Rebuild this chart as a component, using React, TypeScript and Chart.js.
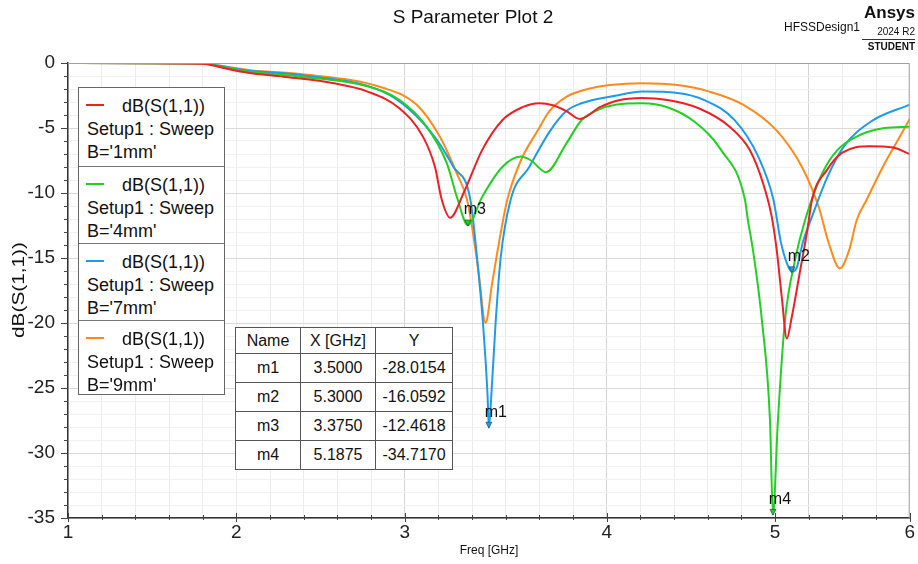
import React, { useEffect, useRef } from 'react';
import { Chart, registerables } from 'chart.js';

Chart.register(...registerables);

const FONT = "'Liberation Sans', Arial, sans-serif";

// ---- series data (frequency in GHz, value in dB) ----
const redFreq = [1.0, 1.8, 1.9, 2.0, 2.1, 2.28, 2.57, 2.78, 2.97, 3.11, 3.18, 3.22, 3.27, 3.35, 3.46, 3.58, 3.70, 3.80, 3.88, 3.96, 4.04, 4.16, 4.26, 4.41, 4.56, 4.75, 4.93, 5.05, 5.13, 5.18, 5.21, 5.24, 5.27, 5.30, 5.35, 5.39, 5.42, 5.51, 5.60, 5.76, 5.90, 6.0];
const redDb = [0, -0.05, -0.3, -0.6, -0.8, -1.05, -1.54, -2.2, -3.5, -5.7, -8.0, -10.5, -11.9, -10.0, -6.7, -4.4, -3.4, -3.1, -3.25, -3.7, -4.3, -3.4, -2.9, -2.7, -2.85, -3.5, -4.9, -6.7, -9.3, -11.8, -14.4, -18.0, -21.2, -19.5, -15.9, -13.0, -10.5, -8.2, -6.9, -6.4, -6.5, -7.0];

const greenFreq = [1.0, 1.8, 1.9, 2.0, 2.08, 2.38, 2.78, 2.97, 3.13, 3.25, 3.31, 3.375, 3.46, 3.58, 3.69, 3.75, 3.84, 3.96, 4.05, 4.15, 4.26, 4.41, 4.56, 4.72, 4.88, 5.021, 5.039, 5.069, 5.122, 5.170, 5.1875, 5.217, 5.259, 5.318, 5.378, 5.48, 5.57, 5.71, 5.85, 6.0];
const greenDb = [0, -0.03, -0.25, -0.5, -0.67, -1.05, -1.8, -2.85, -4.9, -7.7, -10.3, -12.4618, -10.3, -8.0, -7.2, -7.5, -8.4, -6.2, -4.4, -3.6, -3.2, -3.1, -3.4, -4.5, -6.7, -10.5, -12.1, -14.4, -19.8, -27.5, -34.717, -27.5, -19.8, -15.2, -12.1, -8.5, -6.7, -5.5, -5.0, -4.9];

const blueFreq = [1.0, 1.8, 1.9, 2.0, 2.08, 2.38, 2.87, 3.03, 3.19, 3.29, 3.39, 3.43, 3.465, 3.492, 3.5, 3.515, 3.54, 3.57, 3.63, 3.74, 3.86, 3.96, 4.05, 4.26, 4.41, 4.62, 4.78, 4.96, 5.10, 5.19, 5.235, 5.27, 5.3, 5.33, 5.365, 5.42, 5.51, 5.61, 5.77, 6.0];
const blueDb = [0, -0.02, -0.22, -0.45, -0.6, -0.92, -2.2, -3.6, -5.9, -8.0, -10.5, -15, -20, -25.5, -28.0154, -25.5, -20, -15, -10.5, -8.0, -5.3, -3.7, -3.1, -2.5, -2.2, -2.3, -2.85, -4.4, -7.2, -10.5, -13.8, -15.4, -16.0592, -15.7, -13.8, -11.8, -8.8, -6.4, -4.5, -3.2];

const orangeFreq = [1.0, 1.8, 1.9, 2.0, 2.08, 2.38, 2.87, 3.07, 3.21, 3.31, 3.37, 3.40, 3.44, 3.48, 3.52, 3.57, 3.61, 3.69, 3.79, 3.86, 3.96, 4.06, 4.22, 4.41, 4.62, 4.81, 5.01, 5.21, 5.36, 5.46, 5.52, 5.585, 5.64, 5.685, 5.745, 5.84, 5.94, 6.0];
const orangeDb = [0, -0.02, -0.2, -0.4, -0.55, -0.85, -1.9, -3.2, -5.7, -8.5, -10.5, -12.6, -16.2, -20.0, -16.9, -13.1, -10.5, -7.5, -5.2, -3.7, -2.6, -2.1, -1.7, -1.55, -1.7, -2.2, -3.2, -5.2, -8.0, -11.1, -13.9, -15.8, -14.4, -12.1, -10.5, -8.0, -5.7, -4.3];

const seriesFreqs = [redFreq, greenFreq, blueFreq, orangeFreq];
const seriesDbs = [redDb, greenDb, blueDb, orangeDb];
const seriesColors = ['#ee2024', '#22d022', '#1e9be6', '#ff8a1c'];
const seriesTrace = 'dB(S(1,1))';
const seriesSetup = 'Setup1 : Sweep';
const seriesParams = ["B='1mm'", "B='4mm'", "B='7mm'", "B='9mm'"];

// ---- markers ----
const markerNames = ['m1', 'm2', 'm3', 'm4'];
const markerX = [3.5, 5.3, 3.375, 5.1875];
const markerY = [-28.0154, -16.0592, -12.4618, -34.717];
const markerXText = ['3.5000', '5.3000', '3.3750', '5.1875'];
const markerYText = ['-28.0154', '-16.0592', '-12.4618', '-34.7170'];
const markerSeries = [2, 2, 1, 1];

// ---- axes ----
const xMin = 1;
const xMax = 6;
const xMinorStep = 0.2;
const xMajorTicks = [1, 2, 3, 4.2, 5.2, 6];
const xTickLabels = ['1', '2', '3', '4', '5', '6'];
const xDarkGrid = [3.0, 4.2, 5.4];
const yMin = -35;
const yMax = 0;
const yMajorStep = 5;
const yMinorStep = 1;

const near = (a: number, b: number) => Math.abs(a - b) < 1e-6;

const xTickValues: number[] = [];
for (let k = 0; xMin + k * xMinorStep <= xMax + 1e-9; k++) xTickValues.push(+(xMin + k * xMinorStep).toFixed(4));
const yTickValues: number[] = [];
for (let v = yMin; v <= yMax; v += yMinorStep) yTickValues.push(v);

const framePlugin = {
  id: 'frame',
  afterDraw(chart: any) {
    const { ctx, chartArea: a, scales } = chart;
    const x = scales.x;
    const y = scales.y;
    ctx.save();
    ctx.strokeStyle = '#a0a0a0';
    ctx.lineWidth = 1;
    ctx.beginPath();
    ctx.moveTo(a.left, a.top + 0.5);
    ctx.lineTo(a.right - 0.5, a.top + 0.5);
    ctx.lineTo(a.right - 0.5, a.bottom);
    ctx.stroke();
    ctx.strokeStyle = '#444';
    ctx.lineWidth = 1;
    ctx.beginPath();
    yTickValues.forEach((v) => {
      const py = Math.round(y.getPixelForValue(v)) + 0.5;
      const major = Math.abs(v % yMajorStep) < 1e-6;
      ctx.moveTo(a.left - (major ? 7 : 4), py);
      ctx.lineTo(a.left, py);
    });
    xTickValues.forEach((v) => {
      const px = Math.round(x.getPixelForValue(v)) + 0.5;
      const major = xMajorTicks.some((m) => near(m, v));
      ctx.moveTo(px, a.bottom - (major ? 5 : 3));
      ctx.lineTo(px, a.bottom + (major ? 4 : 2));
    });
    ctx.stroke();
    markerNames.forEach((name, i) => {
      const px = x.getPixelForValue(markerX[i]);
      const py = y.getPixelForValue(markerY[i]);
      ctx.fillStyle = seriesColors[markerSeries[i]];
      ctx.strokeStyle = '#333';
      ctx.lineWidth = 0.6;
      ctx.beginPath();
      ctx.moveTo(px, py + 1);
      ctx.lineTo(px - 3, py - 5);
      ctx.lineTo(px + 3, py - 5);
      ctx.closePath();
      ctx.fill();
      ctx.stroke();
      ctx.fillStyle = '#111';
      ctx.font = `16px ${FONT}`;
      ctx.textAlign = 'center';
      ctx.textBaseline = 'middle';
      ctx.fillText(name, px + 7, py - 15);
    });
    ctx.restore();
  },
};

export default function App() {
  const ref = useRef<HTMLCanvasElement>(null);

  useEffect(() => {
    const datasets = seriesFreqs.map((fs, si) => ({
      label: seriesParams[si],
      data: fs.map((f, i) => ({ x: f, y: seriesDbs[si][i] })),
      borderColor: seriesColors[si],
      backgroundColor: seriesColors[si],
      borderWidth: 2,
      pointRadius: 0,
      fill: false,
      cubicInterpolationMode: 'monotone' as const,
    }));
    const chart = new Chart(ref.current!, {
      type: 'line',
      data: { datasets },
      options: {
        animation: false,
        responsive: false,
        devicePixelRatio: 1,
        layout: { padding: { left: 0, top: 63, right: 8, bottom: 0 } },
        plugins: { legend: { display: false }, tooltip: { enabled: false }, title: { display: false } },
        scales: {
          x: {
            type: 'linear',
            min: xMin,
            max: xMax,
            afterFit: (s: any) => { s.height = 46; },
            afterBuildTicks: (s: any) => { s.ticks = xTickValues.map((v) => ({ value: v })); },
            ticks: {
              autoSkip: false,
              maxRotation: 0,
              padding: 3,
              color: '#222',
              font: { family: FONT, size: 19 },
              callback: (v: any) => {
                const idx = xMajorTicks.findIndex((m) => near(m, Number(v)));
                return idx >= 0 ? xTickLabels[idx] : '';
              },
            },
            grid: {
              drawTicks: false,
              color: (c: any) => (xDarkGrid.some((m) => near(m, c.tick?.value)) ? '#d4d4d4' : '#ececec'),
              lineWidth: 1,
            },
            border: { color: '#333', width: 1.5 },
          },
          y: {
            type: 'linear',
            min: yMin,
            max: yMax,
            afterFit: (s: any) => { s.width = 68; },
            afterBuildTicks: (s: any) => { s.ticks = yTickValues.map((v) => ({ value: v })); },
            ticks: {
              autoSkip: false,
              padding: 13,
              color: '#222',
              font: { family: FONT, size: 19 },
              callback: (v: any) => (Math.abs(Number(v) % yMajorStep) < 1e-6 ? String(v) : ''),
            },
            grid: {
              drawTicks: false,
              color: (c: any) => (Math.abs((c.tick?.value ?? 0) % yMajorStep) < 1e-6 ? '#dadada' : '#f1f1f1'),
              lineWidth: 1,
            },
            border: { color: '#333', width: 1.5 },
          },
        },
      },
      plugins: [framePlugin],
    } as any);
    return () => chart.destroy();
  }, []);

  const legendTops = [87, 165, 242, 319];
  const legendBottom = 395;

  return (
    <div style={{ position: 'absolute', left: 0, top: 0, width: 918, height: 564, background: '#fff', fontFamily: FONT, color: '#111', overflow: 'hidden' }}>
      <canvas ref={ref} width={918} height={564} style={{ position: 'absolute', left: 0, top: 0, width: 918, height: 564 }} />

      {/* title */}
      <div style={{ position: 'absolute', left: 273, width: 400, top: 5, textAlign: 'center', fontSize: 19, lineHeight: '24px' }}>S Parameter Plot 2</div>
      <div style={{ position: 'absolute', left: 784, top: 20, fontSize: 12, lineHeight: '14px' }}>HFSSDesign1</div>
      <div style={{ position: 'absolute', right: 3, top: 3, fontSize: 17, fontWeight: 'bold', lineHeight: '20px' }}>Ansys</div>
      <div style={{ position: 'absolute', right: 3, top: 26, fontSize: 10, lineHeight: '12px' }}>2024 R2</div>
      <div style={{ position: 'absolute', left: 862, width: 53, top: 39, height: 1, background: '#333' }} />
      <div style={{ position: 'absolute', right: 3, top: 41, fontSize: 10, fontWeight: 'bold', lineHeight: '12px' }}>STUDENT</div>

      {/* axis titles */}
      <div style={{ position: 'absolute', left: 19 - 60, top: 290 - 10, width: 120, height: 20, textAlign: 'center', fontSize: 16, lineHeight: '20px', transform: 'rotate(-90deg) scaleX(1.3)' }}>dB(S(1,1))</div>
      <div style={{ position: 'absolute', left: 489 - 60, top: 543, width: 120, textAlign: 'center', fontSize: 12, lineHeight: '15px' }}>Freq [GHz]</div>

      {/* legend */}
      <div style={{ position: 'absolute', left: 78, top: 87, width: 147, height: legendBottom - 87, background: '#fff', border: '1px solid #666', boxSizing: 'border-box' }}>
        {seriesParams.map((p, i) => {
          const top = legendTops[i] - 87;
          return (
            <div key={p} style={{ position: 'absolute', left: 0, top, width: 145, height: (i < 3 ? legendTops[i + 1] : legendBottom) - legendTops[i], borderTop: i > 0 ? '1px solid #777' : 'none', boxSizing: 'border-box' }}>
              <div style={{ position: 'absolute', left: 7, top: 16, width: 18, height: 2, background: seriesColors[i] }} />
              <div style={{ position: 'absolute', left: 43, top: 7, fontSize: 18, lineHeight: '22px', whiteSpace: 'nowrap' }}>{seriesTrace}</div>
              <div style={{ position: 'absolute', left: 8, top: 30, fontSize: 18, lineHeight: '22px', whiteSpace: 'nowrap' }}>{seriesSetup}</div>
              <div style={{ position: 'absolute', left: 8, top: 53, fontSize: 18, lineHeight: '22px', whiteSpace: 'nowrap' }}>{p}</div>
            </div>
          );
        })}
      </div>

      {/* marker table */}
      <table style={{ position: 'absolute', left: 235, top: 327, borderCollapse: 'collapse', background: '#fff', fontSize: 16, fontFamily: FONT, color: '#111' }}>
        <tbody>
          <tr style={{ height: 26 }}>
            <td style={{ border: '1.5px solid #555', width: 64, textAlign: 'center', padding: 0 }}>Name</td>
            <td style={{ border: '1.5px solid #555', width: 74, textAlign: 'center', padding: 0 }}>X [GHz]</td>
            <td style={{ border: '1.5px solid #555', width: 76, textAlign: 'center', padding: 0 }}>Y</td>
          </tr>
          {markerNames.map((n, i) => (
            <tr key={n} style={{ height: 29 }}>
              <td style={{ border: '1.5px solid #555', textAlign: 'center', padding: 0 }}>{n}</td>
              <td style={{ border: '1.5px solid #555', textAlign: 'center', padding: 0 }}>{markerXText[i]}</td>
              <td style={{ border: '1.5px solid #555', textAlign: 'center', padding: 0 }}>{markerYText[i]}</td>
            </tr>
          ))}
        </tbody>
      </table>
    </div>
  );
}
